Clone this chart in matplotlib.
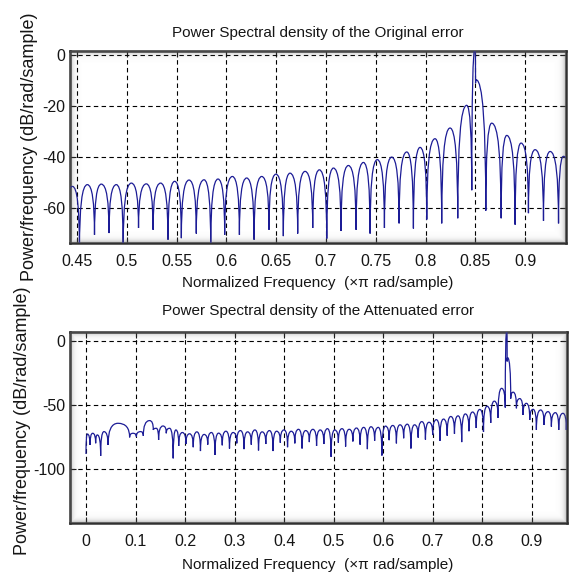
import numpy as np
import matplotlib
matplotlib.use("Agg")
import matplotlib.pyplot as plt
from matplotlib.path import Path
from matplotlib.patches import PathPatch

# ---- top panel: PSD of the original error (nulls / lobe tops)
orig_null_f = [0.4380, 0.4525, 0.4676, 0.4822, 0.4964, 0.5118, 0.5264, 0.5414, 0.5548, 0.5698,
               0.5843, 0.5983, 0.6131, 0.6278, 0.6428, 0.6572, 0.6716, 0.6867, 0.7008, 0.7151,
               0.7302, 0.7443, 0.7587, 0.7734, 0.7878, 0.8012, 0.8162, 0.8323, 0.8464, 0.8502,
               0.8605, 0.8759, 0.8899, 0.9033, 0.9184, 0.9335, 0.9480]
orig_null_db = [-70.0, -76.0, -70.5, -69.8, -75.0, -67.8, -68.5, -72.4, -71.8, -70.0,
                -75.0, -70.5, -70.5, -72.4, -68.5, -71.0, -70.0, -67.8, -72.0, -69.0,
                -68.5, -70.0, -67.8, -66.0, -68.0, -64.5, -66.0, -64.0, -53.0, -11.0,
                -61.0, -64.0, -66.5, -62.0, -65.0, -66.0, -65.0]
orig_peak_f = [0.4455, 0.4604, 0.4744, 0.4895, 0.5046, 0.5196, 0.5340, 0.5481, 0.5625, 0.5776,
               0.5916, 0.6060, 0.6204, 0.6355, 0.6498, 0.6639, 0.6790, 0.6934, 0.7075, 0.7225,
               0.7376, 0.7516, 0.7660, 0.7811, 0.7945, 0.8095, 0.8246, 0.8413, 0.8497, 0.8508,
               0.8664, 0.8815, 0.8959, 0.9099, 0.9250, 0.9384]
orig_peak_db = [-51.5, -50.8, -50.6, -50.8, -50.2, -50.5, -50.2, -49.5, -49.0, -48.9,
                -48.6, -47.6, -48.2, -47.6, -46.7, -46.3, -45.6, -45.0, -44.3, -43.3,
                -42.1, -41.0, -40.0, -38.0, -36.2, -32.8, -28.6, -19.7, 3.0, -9.7,
                -26.7, -31.5, -34.5, -37.1, -37.8, -39.7]

# ---- bottom panel: PSD of the attenuated error
att_null_f = [0.0000, 0.0081, 0.0195, 0.0296, 0.0444, 0.0881, 0.1016, 0.1157, 0.1359, 0.1466,
              0.1621, 0.1760, 0.1872, 0.2018, 0.2165, 0.2311, 0.2458, 0.2604, 0.2751, 0.2897,
              0.3044, 0.3190, 0.3337, 0.3483, 0.3630, 0.3776, 0.3923, 0.4069, 0.4216, 0.4362,
              0.4509, 0.4655, 0.4802, 0.4948, 0.5095, 0.5241, 0.5388, 0.5534, 0.5681, 0.5827,
              0.5974, 0.6120, 0.6267, 0.6413, 0.6560, 0.6706, 0.6853, 0.6999, 0.7146, 0.7292,
              0.7439, 0.7585, 0.7732, 0.7878, 0.8025, 0.8171, 0.8318, 0.8464, 0.8503, 0.8575,
              0.8690, 0.8824, 0.8959, 0.9093, 0.9248, 0.9396, 0.9544, 0.9698, 0.9840]
att_null_db = [-88.3, -81.2, -79.9, -89.8, -81.2, -75.3, -74.7, -74.1, -69.5, -77.3,
               -72.1, -91.7, -82.0, -80.5, -83.0, -86.0, -81.0, -89.0, -81.5, -84.0,
               -80.0, -84.5, -81.0, -85.5, -80.5, -86.0, -79.5, -83.0, -80.0, -84.0,
               -79.0, -82.0, -80.5, -90.5, -79.5, -82.5, -78.5, -81.0, -84.5, -78.0,
               -89.5, -77.5, -80.0, -76.0, -84.0, -75.5, -77.0, -73.5, -78.0, -74.0,
               -72.5, -79.0, -70.5, -68.0, -71.0, -64.0, -60.0, -52.0, -16.0, -45.0,
               -52.6, -57.8, -61.7, -69.5, -65.6, -66.9, -69.5, -69.5, -68.0]
att_peak_f = [0.0027, 0.0135, 0.0229, 0.0363, 0.0646, 0.0948, 0.1103, 0.1285, 0.1419, 0.1554,
              0.1688, 0.1815, 0.1945, 0.2091, 0.2238, 0.2384, 0.2531, 0.2677, 0.2824, 0.2970,
              0.3117, 0.3263, 0.3410, 0.3556, 0.3703, 0.3849, 0.3996, 0.4142, 0.4289, 0.4435,
              0.4582, 0.4728, 0.4875, 0.5021, 0.5168, 0.5314, 0.5461, 0.5607, 0.5754, 0.5900,
              0.6047, 0.6193, 0.6340, 0.6486, 0.6633, 0.6779, 0.6926, 0.7072, 0.7219, 0.7365,
              0.7512, 0.7658, 0.7805, 0.7951, 0.8098, 0.8244, 0.8391, 0.8497, 0.8510, 0.8625,
              0.8757, 0.8891, 0.9026, 0.9180, 0.9329, 0.9476, 0.9630, 0.9770]
att_peak_db = [-72.7, -72.1, -73.4, -70.8, -64.3, -72.1, -70.8, -62.2, -68.2, -66.4,
               -68.2, -69.5, -71.5, -72.5, -71.0, -73.0, -71.5, -72.0, -70.5, -71.5,
               -70.0, -71.0, -69.5, -71.0, -70.0, -70.5, -69.5, -70.5, -69.0, -70.0,
               -69.0, -69.5, -68.5, -69.5, -68.5, -69.0, -68.0, -67.5, -67.0, -67.5,
               -66.5, -66.0, -65.5, -65.0, -65.5, -63.0, -63.5, -61.5, -61.0, -59.0,
               -58.5, -57.0, -55.5, -53.5, -51.0, -47.0, -37.0, 10.0, -13.0, -40.0,
               -45.0, -48.7, -53.4, -53.9, -55.2, -56.0, -56.5, -57.0]

orig_xticks = [0.45, 0.5, 0.55, 0.6, 0.65, 0.7, 0.75, 0.8, 0.85, 0.9]
orig_xlabels = ['0.45', '0.5', '0.55', '0.6', '0.65', '0.7', '0.75', '0.8', '0.85', '0.9']
orig_yticks = [-60, -40, -20, 0]
orig_ylabels = ['-60', '-40', '-20', '0']
att_xticks = [0, 0.1, 0.2, 0.3, 0.4, 0.5, 0.6, 0.7, 0.8, 0.9]
att_xlabels = ['0', '0.1', '0.2', '0.3', '0.4', '0.5', '0.6', '0.7', '0.8', '0.9']
att_yticks = [-100, -50, 0]
att_ylabels = ['-100', '-50', '0']

W, H = 571, 573
FONT = ['Liberation Sans', 'DejaVu Sans']
TXTC = '#151515'
LINE = '#1c1c96'

fig = plt.figure(figsize=(W / 100, H / 100), dpi=100)
fig.patch.set_facecolor('white')


def lobe_path(null_f, null_db, peak_f, peak_db):
    # null, peak, null, ... joined by arches (vertical at nulls, flat at tops)
    f = [null_f[0]]
    d = [null_db[0]]
    for i in range(len(peak_f)):
        f += [peak_f[i], null_f[i + 1]]
        d += [peak_db[i], null_db[i + 1]]
    verts = [(f[0], d[0])]
    codes = [Path.MOVETO]
    for i in range(1, len(f)):
        lo, hi = (i - 1, i) if d[i - 1] < d[i] else (i, i - 1)
        verts += [(f[lo], d[hi]), (f[i], d[i])]
        codes += [Path.CURVE3, Path.CURVE3]
    return Path(verts, codes)


def shade(rect):
    # matlab-ish sunken frame
    w = int(round(rect[2] * W))
    h = int(round(rect[3] * H))
    yy, xx = np.mgrid[0:h, 0:w]
    d = np.minimum(np.minimum(xx, w - 1 - xx), np.minimum(yy, h - 1 - yy)).astype(float)
    rgba = np.zeros((h, w, 4))
    rgba[..., :3] = 0.4
    rgba[..., 3] = 0.45 * np.exp(-d / 2.5)
    sh = fig.add_axes(rect, zorder=5)
    sh.imshow(rgba, extent=(0, 1, 0, 1), aspect='auto', interpolation='bilinear')
    sh.set_axis_off()


def panel(rect, nf, nd, pf, pd, xlim, ylim, xt, xl, yt, yl):
    ax = fig.add_axes(rect)
    ax.add_patch(PathPatch(lobe_path(nf, nd, pf, pd), fill=False, edgecolor=LINE,
                           lw=0.9, zorder=3))
    ax.set_xlim(xlim)
    ax.set_ylim(ylim)
    ax.set_xticks(xt, xl, fontfamily=FONT, fontsize=11.5)
    ax.set_yticks(yt, yl, fontfamily=FONT, fontsize=11.5)
    ax.grid(True, color='k', lw=0.8, linestyle=(0, (4, 3)))
    ax.tick_params(axis='x', direction='in', length=4, width=0.8, top=True, pad=8,
                   colors=TXTC)
    ax.tick_params(axis='y', direction='in', length=4, width=0.8, right=True, pad=3.2,
                   colors=TXTC)
    for s in ax.spines.values():
        s.set_linewidth(1.8)
        s.set_color('#303030')
    shade(rect)
    return ax


top_rect = [70 / W, 1 - 243 / H, 496 / W, 192 / H]
bot_rect = [70 / W, 1 - 523 / H, 497 / W, 191 / H]

panel(top_rect, orig_null_f, orig_null_db, orig_peak_f, orig_peak_db,
      (0.443, 0.941), (-73.7, 1.6), orig_xticks, orig_xlabels, orig_yticks, orig_ylabels)
panel(bot_rect, att_null_f, att_null_db, att_peak_f, att_peak_db,
      (-0.0323, 0.9711), (-142.2, 7.0), att_xticks, att_xlabels, att_yticks, att_ylabels)

xlab = 'Normalized Frequency  (\u00d7\u03c0 rad/sample)'
ylab = 'Power/frequency (dB/rad/sample)'
cx = 318 / W
fig.text(cx, 1 - 37 / H, 'Power Spectral density of the Original error',
         ha='center', va='baseline', fontsize=11, family=FONT, color=TXTC)
fig.text(cx, 1 - 315 / H, 'Power Spectral density of the Attenuated error',
         ha='center', va='baseline', fontsize=11, family=FONT, color=TXTC)
fig.text(cx, 1 - 287 / H, xlab, ha='center', va='baseline', fontsize=11, family=FONT, color=TXTC)
fig.text(cx, 1 - 569 / H, xlab, ha='center', va='baseline', fontsize=11, family=FONT, color=TXTC)
fig.text(29.5 / W, 1 - 147 / H, ylab, rotation=90, ha='center', va='center',
         fontsize=13, family=FONT, color=TXTC)
fig.text(22.5 / W, 1 - 421 / H, ylab, rotation=90, ha='center', va='center',
         fontsize=13, family=FONT, color=TXTC)

fig.savefig('out.png', dpi=100)
